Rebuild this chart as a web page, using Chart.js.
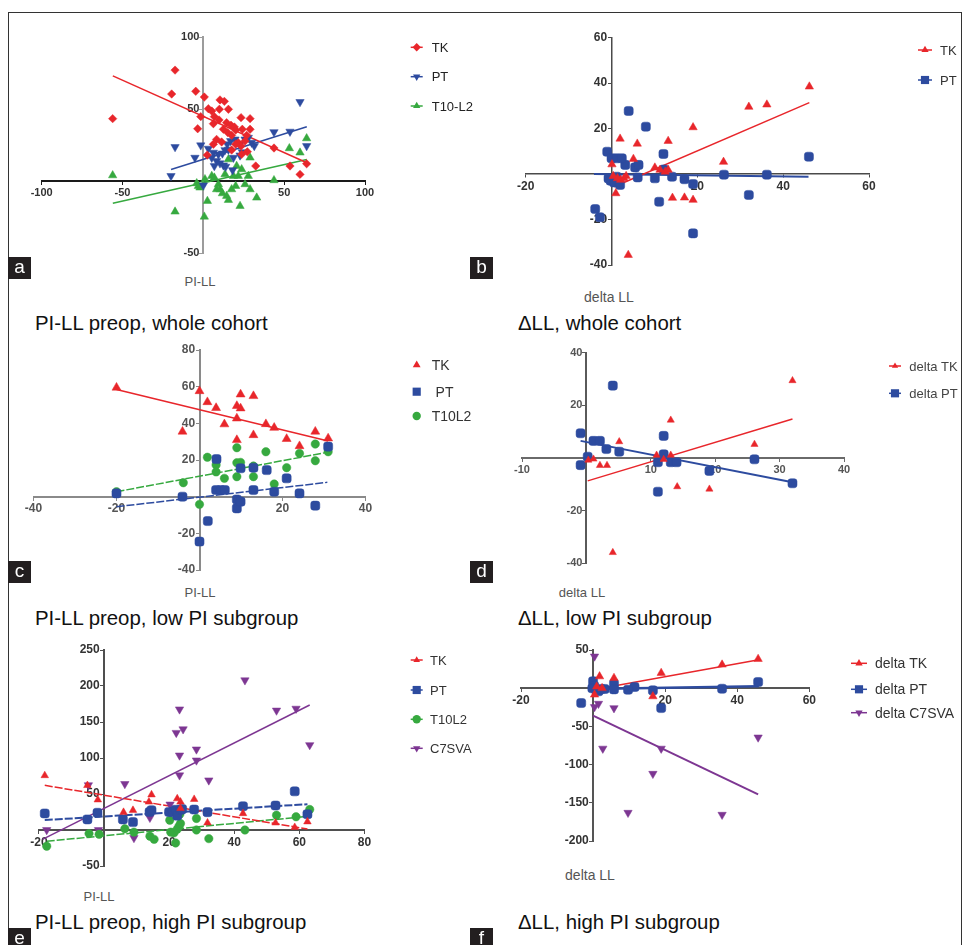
<!DOCTYPE html>
<html>
<head>
<meta charset="utf-8">
<script src="https://cdn.jsdelivr.net/npm/chart.js@4.4.1/dist/chart.umd.min.js"></script>
<style>
  html, body { margin: 0; padding: 0; background: #fff; }
  body { width: 964px; height: 945px; position: relative; overflow: hidden; font-family: "Liberation Sans", Arial, sans-serif; }
  #frame { position: absolute; left: 8px; top: 12px; width: 954px; height: 960px; border: 1px solid #333; box-sizing: border-box; }
  .tag { position: absolute; width: 23px; height: 22px; background: #231f20; color: #fff; font-size: 19px; line-height: 20px; text-align: center; z-index: 3; }
  .cap { position: absolute; font-size: 20.4px; line-height: 20px; color: #111; white-space: nowrap; }
  .axt { position: absolute; font-size: 13px; line-height: 14px; color: #555; white-space: nowrap; transform: translate(-50%, -50%); }
  canvas { position: absolute; }
</style>
</head>
<body>
<div id="frame"></div>

<div class="tag" style="left:8px;top:257px">a</div>
<div class="tag" style="left:470px;top:257px">b</div>
<div class="tag" style="left:8px;top:561px">c</div>
<div class="tag" style="left:470px;top:561px">d</div>
<div class="tag" style="left:8px;top:928px">e</div>
<div class="tag" style="left:470px;top:928px">f</div>

<div class="cap" style="left:35px;top:313px">PI-LL preop, whole cohort</div>
<div class="cap" style="left:518px;top:313px">ΔLL, whole cohort</div>
<div class="cap" style="left:35px;top:608px">PI-LL preop, low PI subgroup</div>
<div class="cap" style="left:518px;top:608px">ΔLL, low PI subgroup</div>
<div class="cap" style="left:35px;top:912px">PI-LL preop, high PI subgroup</div>
<div class="cap" style="left:518px;top:912px">ΔLL, high PI subgroup</div>

<div class="axt" style="left:200px;top:282px">PI-LL</div>
<div class="axt" style="left:609px;top:297px;font-size:14px">delta LL</div>
<div class="axt" style="left:200px;top:593px">PI-LL</div>
<div class="axt" style="left:582px;top:593px">delta LL</div>
<div class="axt" style="left:99px;top:897px">PI-LL</div>
<div class="axt" style="left:590px;top:875px;font-size:14px">delta LL</div>

<script>
// ---- colours
const RED = '#e8262b';
const BLUE = '#2d4b9f';
const GREEN = '#36a93f';
const PURPLE = '#7d3692';

// ---- a: PI-LL preop, whole cohort
const aXTicks = [-100, -50, 0, 50, 100];
const aYTicks = [-50, 0, 50, 100];
const aTK = [[-56.1,43.3],[-17.5,77],[-19.6,60.4],[-4.7,62.3],[0.6,58.3],[-3.5,36.3],[-1.6,44.7],[3.1,50.2],[5.2,48.6],[10.3,56.3],[13,55.3],[9.9,49.8],[15.5,49.8],[6.8,44.7],[9.7,42.4],[6.2,39.8],[14.4,40.5],[17.1,38.7],[19.2,37.5],[23.3,44],[28.9,43.3],[20,35.4],[24.1,35.9],[28.9,35.9],[26.8,31.7],[17.5,31.7],[15.1,33.6],[12.4,35.9],[8.2,28.9],[11.3,27.1],[21.6,26.6],[23.3,24.3],[20,25.5],[25.8,27.8],[6.2,25.5],[17.5,21.5],[23.7,18.5],[43.7,22.9],[32.4,10.4],[53.6,10.4],[59.8,4.6],[63.9,12],[2.4,18],[27.2,20.3]];
const aPT = [[-17.5,23.6],[-20,3.5],[-5.2,16.2],[-1.6,24.8],[0,-3],[3.1,22.5],[6.2,19.7],[9.3,18.5],[11.8,19.2],[13.4,21.5],[14.8,25.5],[16.9,27.8],[19.6,28.9],[22.7,25.5],[25.8,28.9],[27.8,30.1],[29.9,26.6],[31.5,24.3],[5.2,16.2],[8.2,13.9],[10.3,12.3],[12.4,10.9],[6.8,10.4],[13.8,10],[18.1,7.6],[22.7,17.8],[24.1,20.1],[18.6,16.2],[43.7,34],[53.6,34.3],[59.8,54.9],[63.9,24.3],[15.5,21.8]];
const aT10 = [[-56.1,3.9],[-17.5,-21.3],[0.6,-24.8],[2.5,-13.9],[-4.1,-1.6],[-2.1,-4.6],[-3.1,-3.5],[5.2,3.5],[6.8,2.3],[9.3,-2.3],[10.3,-5.8],[11.8,-8.6],[14.4,-10.4],[15.5,-13.2],[17.5,-5.8],[20,-3.5],[21.6,3.5],[23.7,8.1],[20.6,10.4],[22.7,-17.4],[25.8,-2.3],[27.8,3.5],[28.9,-5.8],[33,-11.6],[28.9,16.2],[13.4,4.6],[18.6,3.5],[15.5,15],[43.7,0.5],[53.2,22.7],[59.8,19.7],[63.9,29.6],[8.2,-5.8],[1,1.2]];
const aTKFit = [[-56, 73], [64, 12.7]];
const aPTFit = [[-20, 8], [64, 37.7]];
const aT10Fit = [[-56, -15.5], [64, 15]];

// ---- b: delta LL, whole cohort
const bXTicks = [-20, 0, 20, 40, 60];
const bYTicks = [-40, -20, 0, 20, 40, 60];
const bTK = [[46.1,38.4],[36.2,30.5],[32,29.5],[19,20.5],[26.1,5.3],[13.2,14.5],[6,13.3],[2,15.5],[5.1,6.6],[0.1,4.2],[0.4,-0.9],[1.4,-1.9],[2.1,-2.6],[2.9,-1.9],[3.4,-0.9],[10.1,2.8],[11.3,1.8],[12.5,1],[13.2,1.8],[1,-8.5],[14.2,-10.5],[17,-10.4],[19,-11.4],[3.9,-35.6]];
const bPT = [[46,7.6],[36.2,-0.3],[26.2,-0.3],[32,-9.2],[19,-26.1],[19,-4.4],[17,-2.3],[12.1,8.8],[12.2,2],[11.1,-12.2],[14.1,-1.2],[10.1,-1.9],[8,20.8],[4,27.7],[6.1,-1.5],[5.5,2.9],[6.3,4],[3.2,4],[-1,9.8],[0,6.9],[1.2,6.9],[2.4,6.9],[-0.7,-1.9],[-0.2,-2.9],[0.6,-3.7],[2,-4.8],[1.2,-1.2],[-3.8,-15.4],[-2.7,-19]];
const bTKFit = [[0.6, -5.6], [46.1, 31.4]];
const bPTFit = [[-4.1, 0], [45.9, -1.2]];

// ---- c: PI-LL preop, low PI subgroup
const cXTicks = [-40, -20, 0, 20, 40];
const cYTicks = [-40, -20, 0, 20, 40, 60, 80];
const cTK = [[-20,59.5],[-4.1,35.5],[0,57.6],[1.9,51.6],[4,48.4],[6,39.5],[9,49.5],[9.9,48.2],[9.9,55.8],[13,54.9],[9,42.7],[9,30.9],[13,33.6],[16,39.6],[18,37.6],[21,31.5],[24.1,27.6],[27.9,35.5],[31,31.8]];
const cPT = [[-20,1.8],[-4.1,0],[0,-24.5],[2,-13.3],[4.1,20.5],[4,3.6],[5.1,3.6],[6.1,3.6],[9,-1.5],[9,-6.4],[9.9,-2.7],[9.9,15.5],[13,3.6],[13,15.8],[16.2,14.5],[18,2.7],[21,10],[24.1,1.8],[27.9,-4.9],[31,27.3]];
const cT10 = [[-20,2.7],[-3.9,7.6],[0,-4.2],[1.9,21.5],[4,17.3],[4,13.5],[6,10],[9,26.7],[9,18.5],[9.9,18.7],[9,10.9],[13,10.9],[13,16.7],[16,24.5],[18,6.9],[21,15.8],[24.1,23.6],[27.9,28.7],[27.9,19.6],[31,24.5]];
const cTKFit = [[-20, 58.5], [31, 30.4]];
const cPTFit = [[-20, -5.5], [30.8, 7.8]];
const cT10Fit = [[-20, 2.7], [30.8, 24.2]];

// ---- d: delta LL, low PI subgroup
const dXTicks = [-10, 0, 10, 20, 30, 40];
const dYTicks = [-40, -20, 0, 20, 40];
const dTK = [[32,29.4],[26.1,5.2],[19.1,-11.8],[14.1,-10.9],[13.1,14.4],[13.1,1.1],[10.9,1.1],[12,-0.5],[5.1,6.2],[4.1,-35.9],[3.2,-2.8],[2.1,-2.8],[1.1,-0.4],[0.3,-0.8]];
const dPT = [[32,-9.6],[26.1,-0.5],[19.1,-4.9],[11.1,-12.8],[12,8.4],[12,1.4],[11.1,-1.6],[13.1,-1.6],[14,-1.6],[4.1,27.5],[5.1,2.4],[3.1,3.4],[1.1,6.5],[2.1,6.5],[0.2,0.5],[-0.9,9.4],[-0.9,-2.7]];
const dTKFit = [[0.2, -8.7], [32, 14.8]];
const dPTFit = [[-0.9, 6.5], [32, -9.2]];

// ---- e: PI-LL preop, high PI subgroup
const eXTicks = [-20, 0, 20, 40, 60, 80];
const eYTicks = [-50, 0, 50, 100, 150, 200, 250];
const eTK = [[-18.2,75.7],[-5.1,62],[-1.9,42],[6,24.7],[8.9,27.5],[13.8,39],[14.6,49],[22.5,43.6],[23.5,39],[23.5,30],[27.7,42.7],[31.8,10],[42.7,23],[52.7,10],[58.6,3.7],[62.5,11.5]];
const ePT = [[-18.2,23],[-5.1,14.7],[-2,23.9],[5.8,14.7],[8.9,11],[14,25],[14.6,27.5],[20,25],[21,25],[22,28],[22.5,20],[23.5,28],[24,29],[27.7,28.4],[31.8,24.8],[42.7,33],[52.7,34],[58.6,53.7],[62.5,22]];
const eT10 = [[-17.6,-22.5],[-4.6,-5],[-1.5,-6],[6.4,1.7],[9.2,-3],[14.1,-8.6],[15.4,-13],[20.2,13.6],[20.5,-3],[21.5,-4],[22.5,1],[23,5],[23.5,9],[23.3,22],[22,-18],[28.4,16],[28.4,0],[32.2,-12],[43.3,0],[53,20.6],[59,18.4],[63.2,28.5]];
const eC7 = [[-17.6,0],[-4.8,62.3],[-1.7,0],[6.4,64],[9.2,-11],[14.1,17],[20.3,35.5],[22.2,135],[23.2,167.6],[24.3,140],[23.2,103.6],[23.2,76],[28.4,112],[28.4,96.7],[32.2,69],[43.3,208],[53,166],[59,168.6],[63.2,118]];
const eTKFit = [[-18.2, 62], [62.5, 1.4]];
const ePTFit = [[-18.2, 13.8], [62.5, 35.8]];
const eT10Fit = [[-17.6, -15.6], [63.2, 19.2]];
const eC7Fit = [[-18.9, -13], [63.2, 173.6]];

// ---- f: delta LL, high PI subgroup
const fXTicks = [-20, 0, 20, 40, 60];
const fYTicks = [-200, -150, -100, -50, 0, 50];
const fTK = [[45.8,38.2],[35.8,30.8],[18.9,19.9],[16.6,-10.7],[5.8,13.3],[1.8,15.4],[0.4,-8.5],[1,2],[2.5,0]];
const fPT = [[45.8,8.1],[35.8,-0.7],[18.9,-26],[16.6,-2.8],[11.5,1.6],[9.7,-2],[5.8,5.8],[5.8,-1.5],[-3.3,-19.4],[0,9],[0.3,3],[0.8,-2],[1.5,-4],[2.3,-1],[3.2,-1],[-0.2,0]];
const fC7 = [[0.4,41.6],[0.4,-24.6],[1.5,-20.3],[5.8,-26],[2.7,-79],[18.9,-79],[16.6,-112],[9.7,-163],[35.8,-165.6],[45.8,-64.4]];
const fTKFit = [[0, -2], [46, 37.3]];
const fPTFit = [[-1, -1], [46, 2.5]];
const fC7Fit = [[0, -36], [45.8, -139]];

const FONT = '"Liberation Sans", Arial, sans-serif';

function pts(list) {
  return list.map(p => ({ x: p[0], y: p[1] }));
}

// marker shapes for the side legend
function drawMarker(ctx, shape, x, y, r) {
  ctx.beginPath();
  if (shape === 'circle') {
    ctx.arc(x, y, r, 0, Math.PI * 2);
  } else if (shape === 'square') {
    ctx.rect(x - r * 0.85, y - r * 0.85, r * 1.7, r * 1.7);
  } else if (shape === 'diamond') {
    ctx.moveTo(x, y - r); ctx.lineTo(x + r, y); ctx.lineTo(x, y + r); ctx.lineTo(x - r, y);
  } else if (shape === 'up') {
    ctx.moveTo(x, y - r); ctx.lineTo(x + r * 0.87, y + r * 0.5); ctx.lineTo(x - r * 0.87, y + r * 0.5);
  } else {
    ctx.moveTo(x, y + r); ctx.lineTo(x + r * 0.87, y - r * 0.5); ctx.lineTo(x - r * 0.87, y - r * 0.5);
  }
  ctx.closePath();
  ctx.fill();
}

function sideLegend(p) {
  return {
    id: 'sideLegend',
    afterDraw(chart) {
      const ctx = chart.ctx;
      const lg = p.legend;
      ctx.save();
      ctx.font = lg.size + 'px ' + FONT;
      ctx.textBaseline = 'middle';
      p.series.forEach((s, i) => {
        const x = lg.x - p.box[0];
        const y = lg.rows[i] - p.box[1];
        if (lg.line) {
          ctx.strokeStyle = s.color;
          ctx.lineWidth = 1.5;
          ctx.beginPath();
          ctx.moveTo(x - lg.line, y);
          ctx.lineTo(x + lg.line, y);
          ctx.stroke();
        }
        ctx.fillStyle = s.color;
        drawMarker(ctx, s.shape, x, y, s.r);
        ctx.fillStyle = lg.color;
        ctx.fillText(s.label, lg.textX - p.box[0], y + 1);
      });
      ctx.restore();
    }
  };
}

const STYLE = {
  circle: { pointStyle: 'circle', rot: 0, k: 1 },
  square: { pointStyle: 'rectRounded', rot: 0, k: 1.1 },
  diamond: { pointStyle: 'rectRot', rot: 0, k: 1 },
  up: { pointStyle: 'triangle', rot: 0, k: 1.15 },
  down: { pointStyle: 'triangle', rot: 180, k: 1.15 }
};

function makePanel(p) {
  const cv = document.createElement('canvas');
  cv.width = p.box[2];
  cv.height = p.box[3];
  cv.style.left = p.box[0] + 'px';
  cv.style.top = p.box[1] + 'px';
  cv.style.width = p.box[2] + 'px';
  cv.style.height = p.box[3] + 'px';
  document.body.appendChild(cv);

  const datasets = [];
  p.series.forEach(s => {
    const st = STYLE[s.shape];
    datasets.push({
      label: s.label,
      data: pts(s.data),
      pointStyle: st.pointStyle,
      rotation: st.rot,
      radius: s.r * st.k,
      backgroundColor: s.color,
      borderColor: s.color,
      borderWidth: 0.5
    });
  });
  p.series.forEach(s => {
    datasets.push({
      label: s.label + ' fit',
      data: pts(s.fit),
      showLine: true,
      pointRadius: 0,
      borderColor: s.color,
      borderWidth: s.lw || 1.5,
      borderDash: s.dash || [],
      backgroundColor: s.color
    });
  });

  // zero is not labelled; y labels keep a small gap to the axis line
  const xLabel = v => (v === 0 ? '' : String(v));
  const yLabel = v => (v === 0 ? '' : v + ' \u200A');
  const tickFont = { family: FONT, size: p.tickSize, weight: 'bold' };

  new Chart(cv, {
    type: 'scatter',
    data: { datasets },
    options: {
      responsive: false,
      animation: false,
      devicePixelRatio: 1,
      layout: {
        padding: {
          left: p.area[0] - p.box[0],
          top: p.area[1] - p.box[1],
          right: p.box[0] + p.box[2] - p.area[2],
          bottom: p.box[1] + p.box[3] - p.area[3]
        }
      },
      plugins: { legend: { display: false }, tooltip: { enabled: false } },
      scales: {
        x: {
          type: 'linear',
          position: { y: 0 },
          min: p.xTicks[0],
          max: p.xTicks[p.xTicks.length - 1],
          ticks: { stepSize: p.xTicks[1] - p.xTicks[0], callback: xLabel, font: tickFont, color: p.tickColor, padding: 2, maxRotation: 0, autoSkip: false },
          grid: { drawOnChartArea: false, tickLength: 3, color: p.xAxisColor },
          border: { color: p.xAxisColor, width: p.axisWidth }
        },
        y: {
          type: 'linear',
          position: { x: 0 },
          min: p.yTicks[0],
          max: p.yTicks[p.yTicks.length - 1],
          ticks: { stepSize: p.yTicks[1] - p.yTicks[0], callback: yLabel, font: tickFont, color: p.tickColor, padding: 1, autoSkip: false },
          grid: { drawOnChartArea: false, tickLength: 3, color: p.yAxisColor },
          border: { color: p.yAxisColor, width: p.axisWidth }
        }
      }
    },
    plugins: [sideLegend(p)]
  });
}

makePanel({
  box: [10, 14, 470, 262], area: [41.7, 37, 365, 253],
  xTicks: aXTicks, yTicks: aYTicks, tickSize: 11, tickColor: '#333',
  xAxisColor: '#1a1a1a', yAxisColor: '#9c9c9c', axisWidth: 2,
  legend: { x: 416.7, textX: 431.7, rows: [47.3, 76.7, 106], size: 13, color: '#222', line: 6 },
  series: [
    { label: 'TK', data: aTK, fit: aTKFit, color: RED, shape: 'diamond', r: 4.2 },
    { label: 'PT', data: aPT, fit: aPTFit, color: BLUE, shape: 'down', r: 4.2 },
    { label: 'T10-L2', data: aT10, fit: aT10Fit, color: GREEN, shape: 'up', r: 4.2 }
  ]
});

makePanel({
  box: [495, 14, 467, 262], area: [525.7, 37.5, 869, 265],
  xTicks: bXTicks, yTicks: bYTicks, tickSize: 12, tickColor: '#333',
  xAxisColor: '#4a4a4a', yAxisColor: '#4a4a4a', axisWidth: 1.5,
  legend: { x: 925, textX: 940, rows: [50, 80], size: 13, color: '#333', line: 7 },
  series: [
    { label: 'TK', data: bTK, fit: bTKFit, color: RED, shape: 'up', r: 4.2 },
    { label: 'PT', data: bPT, fit: bPTFit, color: BLUE, shape: 'square', r: 4.8, lw: 2 }
  ]
});

makePanel({
  box: [10, 330, 470, 250], area: [33.5, 350, 365.5, 570],
  xTicks: cXTicks, yTicks: cYTicks, tickSize: 12, tickColor: '#555',
  xAxisColor: '#8a8a8a', yAxisColor: '#8a8a8a', axisWidth: 2,
  legend: { x: 416.7, textX: 431.7, rows: [365, 391.7, 416], size: 14, color: '#333', line: 0 },
  series: [
    { label: 'TK', data: cTK, fit: cTKFit, color: RED, shape: 'up', r: 4.5 },
    { label: ' PT', data: cPT, fit: cPTFit, color: BLUE, shape: 'square', r: 4.8, dash: [8, 2] },
    { label: 'T10L2', data: cT10, fit: cT10Fit, color: GREEN, shape: 'circle', r: 4.2, dash: [8, 2] }
  ]
});

makePanel({
  box: [495, 330, 467, 250], area: [522, 352.7, 844, 563.3],
  xTicks: dXTicks, yTicks: dYTicks, tickSize: 11, tickColor: '#555',
  xAxisColor: '#6a6a6a', yAxisColor: '#5a5a5a', axisWidth: 2,
  legend: { x: 895, textX: 909.3, rows: [366, 393.3], size: 13, color: '#444', line: 6 },
  series: [
    { label: 'delta TK', data: dTK, fit: dTKFit, color: RED, shape: 'up', r: 3.6 },
    { label: 'delta PT', data: dPT, fit: dPTFit, color: BLUE, shape: 'square', r: 4.8, lw: 2 }
  ]
});

makePanel({
  box: [10, 635, 470, 245], area: [38.9, 650, 364.4, 866],
  xTicks: eXTicks, yTicks: eYTicks, tickSize: 12, tickColor: '#333',
  xAxisColor: '#4f4f4f', yAxisColor: '#4f4f4f', axisWidth: 2,
  legend: { x: 416.7, textX: 430, rows: [660, 690, 719.3, 748.3], size: 13, color: '#333', line: 6 },
  series: [
    { label: 'TK', data: eTK, fit: eTKFit, color: RED, shape: 'up', r: 3.8, dash: [8, 2] },
    { label: 'PT', data: ePT, fit: ePTFit, color: BLUE, shape: 'square', r: 4.8, dash: [8, 2], lw: 2 },
    { label: 'T10L2', data: eT10, fit: eT10Fit, color: GREEN, shape: 'circle', r: 4.2, dash: [8, 2] },
    { label: 'C7SVA', data: eC7, fit: eC7Fit, color: PURPLE, shape: 'down', r: 4.2 }
  ]
});

makePanel({
  box: [495, 635, 467, 225], area: [521, 650, 809.3, 841],
  xTicks: fXTicks, yTicks: fYTicks, tickSize: 12, tickColor: '#333',
  xAxisColor: '#555', yAxisColor: '#555', axisWidth: 2,
  legend: { x: 859, textX: 875, rows: [663.3, 689.3, 712.7], size: 14, color: '#333', line: 8 },
  series: [
    { label: 'delta TK', data: fTK, fit: fTKFit, color: RED, shape: 'up', r: 4.2 },
    { label: 'delta PT', data: fPT, fit: fPTFit, color: BLUE, shape: 'square', r: 4.8, lw: 2.5 },
    { label: 'delta C7SVA', data: fC7, fit: fC7Fit, color: PURPLE, shape: 'down', r: 4.2, lw: 2 }
  ]
});
</script>
</body>
</html>
